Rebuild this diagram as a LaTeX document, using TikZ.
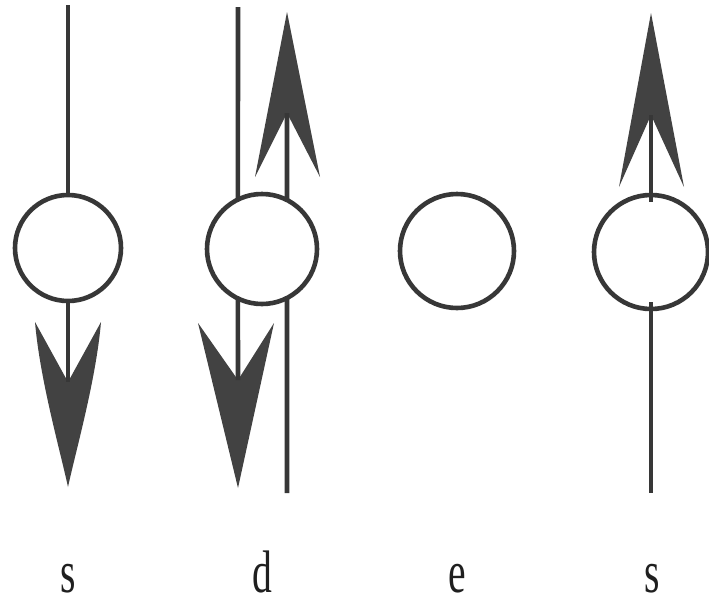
\documentclass[tikz,border=0pt]{standalone}
\usepackage{fontspec}
\setmainfont{Liberation Serif}
\newfontfamily\labfont[FakeStretch=0.66]{Liberation Serif}
\usetikzlibrary{calc}
\definecolor{ink}{RGB}{55,55,55}
\definecolor{headink}{RGB}{66,66,66}
\begin{document}
\begin{tikzpicture}[x=1pt,y=-1pt,
  orb/.style={circle, draw=ink, line width=4.6pt, inner sep=0pt, outer sep=0pt},
  shaft/.style={draw=ink, line width=4.6pt},
  head/.style={fill=headink},
  lab/.style={font=\labfont\fontsize{60}{60}\selectfont, anchor=base, inner sep=1pt, text=black!88}]
\useasboundingbox (0,0) rectangle (709,600);

% circles
\node[orb, minimum size=106pt] (c1) at (68,248) {};
\node[orb, minimum size=110pt] (c2) at (262,249) {};
\node[orb, minimum size=114pt] (c3) at (457,251) {};
\node[orb, minimum size=114pt] (c4) at (651,252) {};

% column 1 : line in from top, arrow down
\coordinate (t1) at (68,5);
\coordinate (n1) at (68,382);
\draw[shaft] (t1) -- (c1.north);
\fill[head] (68,487) .. controls (60,450) and (40,380) .. (35,322) -- (n1)
  -- (101,322) .. controls (96,380) and (76,450) .. (68,487) -- cycle;
\draw[shaft] (c1.south) -- (n1);

% column 2 : left line down with arrow, right line up with arrow
\coordinate (t2) at (238,7);
\coordinate (n2d) at (238,380);
\draw[shaft] (t2) -- (c2.116);
\fill[head] (238,488) -- (198,323) -- (n2d) -- (274,323) -- cycle;
\draw[shaft] (c2.-116) -- (n2d);
\coordinate (n2u) at (287,113);
\coordinate (b2) at (287,493);
\fill[head] (287,12) -- (255,177) -- (n2u) -- (320,177) -- cycle;
\draw[shaft] (n2u) -- (c2.63);
\draw[shaft] (c2.-63) -- (b2);

% column 4 : arrow up, line out to bottom
\coordinate (n4) at (651,115);
\coordinate (b4) at (651,493);
\fill[head] (651,13) -- (619,187) -- (n4) -- (684,187) -- cycle;
\draw[shaft] (n4) -- ($(c4.north)+(0,7)$);
\draw[shaft] ($(c4.south)+(0,-7)$) -- (b4);

% labels
\node[lab] (l1) at (68,592) {s};
\node[lab] (l2) at (262,592) {d};
\node[lab] (l3) at (457,592) {e};
\node[lab] (l4) at (652,592) {s};
\end{tikzpicture}
\end{document}
